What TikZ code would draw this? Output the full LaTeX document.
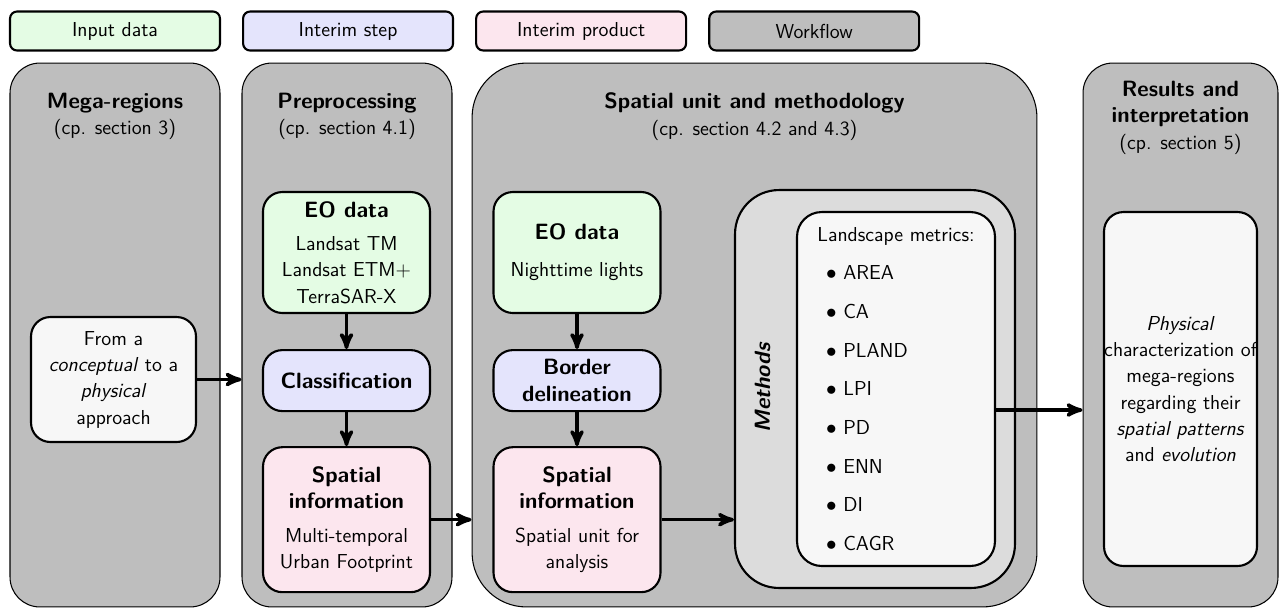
\documentclass[tikz,border=0pt]{standalone}
\usepackage{amsmath}
\usepackage{tikz}
\usetikzlibrary{arrows, positioning}
\definecolor{inputC}{HTML}{E4FCE4}
\definecolor{stepC}{HTML}{E4E4FC}
\definecolor{productC}{HTML}{FCE6EE}
\definecolor{flowC}{HTML}{BEBEBE}
\definecolor{methodC}{HTML}{DCDCDC}
\definecolor{plainC}{HTML}{F7F7F7}
\tikzset{
  >=stealth',
  x=0.02cm, y=-0.02cm,
  every node/.style={font=\sffamily\fontsize{11.5}{15}\selectfont},
  legend/.style={draw, very thick, rounded corners=4pt, minimum width=4.2cm, minimum height=0.78cm},
  panel/.style={draw, semithick, fill=flowC, rounded corners=17pt, minimum height=10.88cm},
  title/.style={align=center},
  box/.style={draw, very thick, rounded corners=11pt, align=center, inner sep=2pt, minimum width=3.34cm},
  flow/.style={->, line width=2pt},
}
\newcommand{\hd}[1]{{\fontsize{12.6}{15}\selectfont\bfseries #1}}
\newcommand{\metric}[1]{\hspace*{5pt}$\bullet$ #1}

\begin{document}
\begin{tikzpicture}
		\useasboundingbox (0,0) rectangle (1284,610);

		% legend
		\node[legend, fill=inputC] (input) at (115,31) {Input data};
		\node[legend, fill=stepC, right=0.42cm of input] (step) {Interim step};
		\node[legend, fill=productC, right=0.42cm of step] (product) {Interim product};
		\node[legend, fill=flowC, right=0.42cm of product] (workflow) {Workflow};

		% panels
		\node[panel, minimum width=4.2cm] (mega) at (115,335) {};
		\node[panel, minimum width=4.2cm] (prep) at (347,335) {};
		\node[panel, minimum width=11.3cm, rounded corners=31pt] (spat) at (754.5,335) {};
		\node[panel, minimum width=3.9cm] (res) at (1180.5,335) {};

		\node[title] (megaT) at (115,116.5) {\hd{Mega-regions}\\(cp. section 3)};
		\node[title] (prepT) at (347,116.5) {\hd{Preprocessing}\\(cp. section 4.1)};
		\node[title] (spatT) at (754.5,116.5) {\hd{Spatial unit and methodology}\\(cp. section 4.2 and 4.3)};
		\node[title] (resT) at (1180.5,117.5) {\hd{Results and}\\\hd{interpretation}\\(cp. section 5)};

		% mega-regions
		\node[box, fill=plainC, minimum width=3.3cm, minimum height=2.5cm] (from) at (113.5,379.5)
			{From a\\\textit{conceptual} to a\\\textit{physical}\\approach};

		% preprocessing
		\node[box, fill=inputC, minimum height=2.42cm] (eo1) at (346.5,252.5)
			{\hd{EO data}\\[4pt]Landsat TM\\Landsat ETM+\\TerraSAR-X};
		\node[box, fill=stepC, minimum height=1.22cm, below=0.7cm of eo1] (class) {\hd{Classification}};
		\node[box, fill=productC, minimum height=2.9cm, below=0.68cm of class] (info1)
			{\hd{Spatial}\\\hd{information}\\[4pt]Multi-temporal\\Urban Footprint};

		% spatial unit and methodology
		\node[box, fill=inputC, minimum height=2.42cm] (eo2) at (577,252.5)
			{\hd{EO data}\\[6pt]Nighttime lights};
		\node[box, fill=stepC, minimum height=1.22cm, below=0.7cm of eo2] (border)
			{\hd{Border}\\\hd{delineation}};
		\node[box, fill=productC, minimum height=2.9cm, below=0.68cm of border] (info2)
			{\hd{Spatial}\\\hd{information}\\[4pt]Spatial unit for\\analysis};

		\node[box, fill=methodC, rounded corners=25pt, minimum width=5.6cm, minimum height=7.96cm] (methods) at (875,389) {};
		\node[rotate=90, font=\sffamily\fontsize{12.6}{15}\selectfont\bfseries\itshape] (methodsT) at (763,388) {Methods};
		\node[box, fill=plainC, rounded corners=14pt, align=left, minimum width=3.96cm, minimum height=7.08cm,
			font=\sffamily\fontsize{11.5}{22}\selectfont] (metrics) at (896,389)
			{Landscape metrics:\\\metric{AREA}\\\metric{CA}\\\metric{PLAND}\\\metric{LPI}\\\metric{PD}\\\metric{ENN}\\\metric{DI}\\\metric{CAGR}};

		% results
		\node[box, fill=plainC, inner xsep=0pt, minimum width=3.06cm, minimum height=7.08cm] (physical) at (1180.5,389)
			{\textit{Physical}\\characterization of\\mega-regions\\regarding their\\\textit{spatial patterns}\\and \textit{evolution}};

		% transitions
		\draw[flow] (from.east) -- (from.east -| prep.west);
		\draw[flow] (eo1) -- (class);
		\draw[flow] (class) -- (info1);
		\draw[flow] (info1.east) -- (info1.east -| spat.west);
		\draw[flow] (eo2) -- (border);
		\draw[flow] (border) -- (info2);
		\draw[flow] (info2.east) -- (info2.east -| methods.west);
		\draw[flow] ([yshift=-0.42cm]metrics.east) -- ([yshift=-0.42cm]metrics.east -| res.west);

	\end{tikzpicture}
\end{document}
